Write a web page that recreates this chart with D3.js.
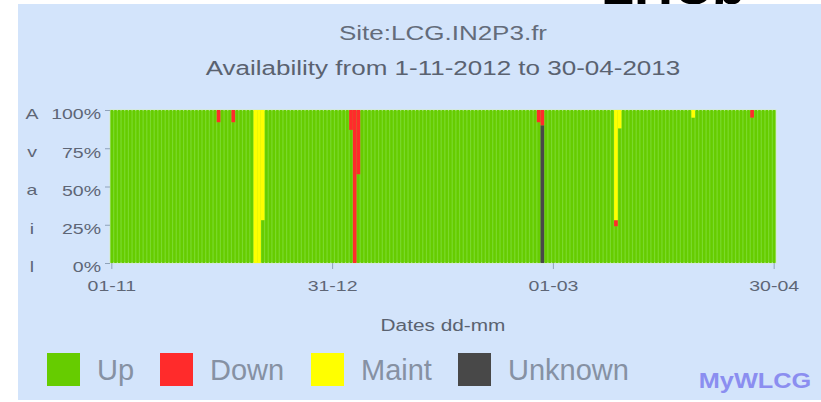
<!DOCTYPE html>
<html>
<head>
<meta charset="utf-8">
<script src="https://cdn.jsdelivr.net/npm/d3@7"></script>
<style>
  body { margin: 0; background: #fff; }
  svg { display: block; font-family: "Liberation Sans", Arial, sans-serif; }
</style>
</head>
<body>
<div id="chart"></div>
<script>
const siteTitle = "Site:LCG.IN2P3.fr";
const periodTitle = "Availability from 1-11-2012 to 30-04-2013";
const xTitle = "Dates dd-mm";
const statusKeys = ["Up", "Down", "Maint", "Unknown"];
const statusColors = ["#66cc00", "#ff2b2b", "#ffff00", "#484848"];
const xTickLabels = ["01-11", "31-12", "01-03", "30-04"];
const yTickValues = [100, 75, 50, 25, 0];
const yLetters = ["A", "v", "a", "i", "l"];

// days that were not fully "Up" (percent of the day)
const downDays = ["30-11", "04-12", "05-01", "06-01", "07-01", "25-02", "26-02", "18-03", "24-04"];
const downPct = [8, 8, 13, 100, 42, 8, 10, 4, 5];
const maintDays = ["10-12", "11-12", "12-12", "18-03", "19-03", "08-04"];
const maintPct = [100, 100, 72, 72, 12, 5];
const unknownDays = ["26-02"];
const unknownPct = [90];

const width = 821;
const height = 402;
const STRETCH = 1.3;

const days = d3.timeDay
  .range(new Date(2012, 10, 1), new Date(2013, 4, 1))
  .map(d3.timeFormat("%d-%m"));

const rows = days.map((day) => {
  const r = { day: day, Down: 0, Maint: 0, Unknown: 0 };
  downDays.forEach((d, i) => { if (d === day) r.Down = downPct[i]; });
  maintDays.forEach((d, i) => { if (d === day) r.Maint = maintPct[i]; });
  unknownDays.forEach((d, i) => { if (d === day) r.Unknown = unknownPct[i]; });
  r.Up = 100 - r.Down - r.Maint - r.Unknown;
  return r;
});

const color = d3.scaleOrdinal().domain(statusKeys).range(statusColors);

const svg = d3
  .select("#chart")
  .append("svg")
  .attr("width", width)
  .attr("height", height);

// stretch chart text horizontally like the scaled image
function stretch(sel, k) {
  sel.each(function () {
    const w = this.getComputedTextLength();
    d3.select(this).attr("textLength", w * k).attr("lengthAdjust", "spacingAndGlyphs");
  });
}

svg.append("text")
  .attr("x", 745)
  .attr("y", 4)
  .attr("text-anchor", "end")
  .attr("font-size", 54)
  .attr("font-weight", "bold")
  .attr("fill", "#000")
  .text("LHCb");

svg.append("rect")
  .attr("x", 18)
  .attr("y", 4)
  .attr("width", width - 18)
  .attr("height", 396)
  .attr("fill", "#d3e4fb");

const xScale = d3.scaleBand().domain(days).range([110, 776]).padding(0);
const yScale = d3.scaleLinear().domain([0, 100]).range([263, 110]);
const bw = xScale.bandwidth();

svg.append("rect")
  .attr("x", 110)
  .attr("y", 110)
  .attr("width", 666)
  .attr("height", 153)
  .attr("fill", "#7bd92c")
  .attr("stroke", "#d6ecc6")
  .attr("stroke-width", 1);

const stacked = d3.stack().keys(["Up", "Unknown", "Down", "Maint"])(rows);

svg.append("g")
  .selectAll("g")
  .data(stacked)
  .join("g")
  .attr("fill", (s) => color(s.key))
  .selectAll("rect")
  .data((s) => s.map((p) => Object.assign(p, { key: s.key })))
  .join("rect")
  .attr("x", (p) => xScale(p.data.day) + (p.key === "Up" ? 0.6 : 0))
  .attr("width", (p) => (p.key === "Up" ? bw - 1.2 : bw))
  .attr("y", (p) => yScale(p[1]))
  .attr("height", (p) => yScale(p[0]) - yScale(p[1]));

const xAxis = d3.axisBottom(xScale).tickValues(xTickLabels).tickSize(6).tickPadding(11);
const gx = svg.append("g").attr("transform", "translate(0,263)").call(xAxis);
gx.select(".domain").remove();
gx.selectAll(".tick line").attr("stroke", "#8fa2b8");
gx.selectAll(".tick text")
  .attr("font-size", 15)
  .attr("font-family", "Liberation Sans, Arial, sans-serif")
  .attr("fill", "#5e6676")
  .call(stretch, STRETCH);

const yAxis = d3.axisLeft(yScale).tickValues(yTickValues).tickFormat((d) => d + "%").tickSize(5).tickPadding(4);
const gy = svg.append("g").attr("transform", "translate(110,0)").call(yAxis);
gy.select(".domain").remove();
gy.selectAll(".tick line").attr("stroke", "#8fa2b8");
gy.selectAll(".tick text")
  .attr("y", 4)
  .attr("font-size", 15)
  .attr("font-family", "Liberation Sans, Arial, sans-serif")
  .attr("fill", "#5e6676")
  .call(stretch, STRETCH);

svg.append("g")
  .selectAll("text")
  .data(yTickValues)
  .join("text")
  .attr("x", 32)
  .attr("y", (d) => yScale(d) + 4)
  .attr("dy", "0.32em")
  .attr("text-anchor", "middle")
  .attr("font-size", 15)
  .attr("fill", "#5e6676")
  .text((d, i) => yLetters[i])
  .call(stretch, STRETCH);

svg.append("text")
  .attr("x", 443)
  .attr("y", 40)
  .attr("text-anchor", "middle")
  .attr("font-size", 20)
  .attr("fill", "#646c7a")
  .text(siteTitle)
  .call(stretch, STRETCH);

svg.append("text")
  .attr("x", 443)
  .attr("y", 75)
  .attr("text-anchor", "middle")
  .attr("font-size", 20)
  .attr("fill", "#5a6270")
  .text(periodTitle)
  .call(stretch, STRETCH);

svg.append("text")
  .attr("x", 443)
  .attr("y", 331)
  .attr("text-anchor", "middle")
  .attr("font-size", 16)
  .attr("fill", "#5a6270")
  .text(xTitle)
  .call(stretch, STRETCH);

// legend
const legendX = [47, 160, 311, 458];
const legend = svg.append("g")
  .selectAll("g")
  .data(statusKeys)
  .join("g")
  .attr("transform", (d, i) => `translate(${legendX[i]},353)`);

legend.append("rect")
  .attr("width", 33)
  .attr("height", 33)
  .attr("fill", (d) => color(d));

legend.append("text")
  .attr("x", 50)
  .attr("y", 27)
  .attr("font-size", 29)
  .attr("fill", "#8691a3")
  .text((d) => d);

svg.append("text")
  .attr("x", 755)
  .attr("y", 388)
  .attr("text-anchor", "middle")
  .attr("font-size", 22)
  .attr("font-weight", "bold")
  .attr("fill", "#8b8ef0")
  .text("MyWLCG")
  .call(stretch, 1.15);
</script>
</body>
</html>
